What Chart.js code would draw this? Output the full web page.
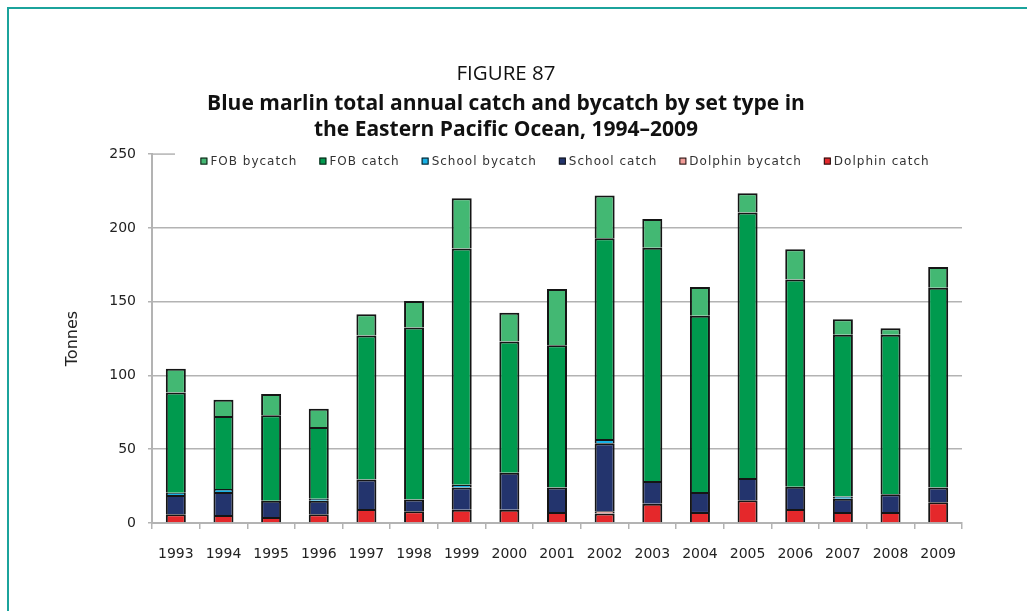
<!DOCTYPE html>
<html>
<head>
<meta charset="utf-8">
<script src="https://cdn.jsdelivr.net/npm/chart.js@4.4.1/dist/chart.umd.min.js"></script>
<style>
  html, body { margin: 0; padding: 0; background: #ffffff; }
  body { width: 1027px; height: 611px; position: relative; overflow: hidden; }
  #frame {
    position: absolute; left: 7px; top: 7px; width: 1040px; height: 640px;
    border-top: 2px solid #1ba39c; border-left: 2px solid #1ba39c;
  }
  #wrap { position: absolute; left: 0; top: 0; width: 1027px; height: 611px; }
</style>
</head>
<body>
<div id="frame"></div>
<div id="wrap"><canvas id="chart" width="1027" height="611"></canvas></div>
<script>
// Blue marlin catch and bycatch (tonnes) by set type, Eastern Pacific Ocean
const years = ['1993','1994','1995','1996','1997','1998','1999','2000','2001',
               '2002','2003','2004','2005','2006','2007','2008','2009'];

const dolphinCatch   = [6, 5.5, 4, 6, 9.5, 8, 9, 9, 7.5, 6.5, 13, 7.5, 15.5, 9.5, 7.5, 7.5, 14];
const dolphinBycatch = [0, 0, 0, 0, 0, 0, 0, 0, 0, 1.5, 0, 0, 0, 0, 0, 0, 0];
const schoolCatch    = [13, 15.5, 11, 9, 20, 8, 15, 25, 16.5, 46, 15.5, 13.5, 15, 15, 9, 12, 10];
const schoolBycatch  = [1.5, 2, 0, 1.5, 0, 0, 2, 0, 0, 3, 0, 0, 0, 0, 1.5, 0, 0];
const fobCatch       = [68, 49.5, 58, 48.5, 97.5, 116.5, 160, 89, 96.5, 136, 158, 119.5, 180, 140.5, 109.5, 108, 135.5];
const fobBycatch     = [16, 11, 14.5, 12.5, 14.5, 18, 34, 19.5, 38, 29, 19.5, 19.5, 13, 20.5, 10.5, 4.5, 14];

const yTicks = [0, 50, 100, 150, 200, 250];

const GRID = '#b3b3b3';
const FONT = "'DejaVu Sans', 'Liberation Sans', sans-serif";

function series(label, data, color) {
  return {
    label: label, data: data, backgroundColor: color,
    borderColor: '#151515', borderWidth: 2, borderSkipped: 'start'
  };
}

// short stub of the top gridline left of the legend
const topStub = {
  id: 'topStub',
  beforeDatasetsDraw(chart) {
    const y = chart.scales.y.getPixelForValue(yTicks[yTicks.length - 1]);
    const ctx = chart.ctx;
    ctx.save();
    ctx.strokeStyle = GRID;
    ctx.lineWidth = 1.5;
    ctx.beginPath();
    ctx.moveTo(chart.chartArea.left, y);
    ctx.lineTo(chart.chartArea.left + 23, y);
    ctx.stroke();
    ctx.restore();
  }
};

// one-row legend drawn inside the top of the plot, series listed top-down
const inPlotLegend = {
  id: 'inPlotLegend',
  afterDraw(chart) {
    const ctx = chart.ctx;
    const area = chart.chartArea;
    const items = chart.data.datasets.slice().reverse();
    const box = 7, textGap = 3, gap = 22;
    ctx.save();
    ctx.font = "12px " + FONT;
    if ('letterSpacing' in ctx) ctx.letterSpacing = '1px';
    const widths = items.map(d => ctx.measureText(d.label).width);
    const total = widths.reduce((a, w) => a + box + textGap + w, 0) + gap * (items.length - 1);
    let x = (area.left + area.right) / 2 - total / 2 + 8;
    const y = area.top + 7;
    ctx.textBaseline = 'middle';
    ctx.textAlign = 'left';
    items.forEach((d, i) => {
      ctx.fillStyle = d.backgroundColor;
      ctx.fillRect(x, y - box / 2, box, box);
      ctx.strokeStyle = '#151515';
      ctx.lineWidth = 1;
      ctx.strokeRect(x + 0.5, y - box / 2 + 0.5, box - 1, box - 1);
      ctx.fillStyle = '#333';
      ctx.fillText(d.label, x + box + textGap, y + 0.5);
      x += box + textGap + widths[i] + gap;
    });
    ctx.restore();
  }
};

new Chart(document.getElementById('chart'), {
  type: 'bar',
  data: {
    labels: years,
    datasets: [
      series('Dolphin catch', dolphinCatch, '#e5282b'),
      series('Dolphin bycatch', dolphinBycatch, '#f29c98'),
      series('School catch', schoolCatch, '#23346d'),
      series('School bycatch', schoolBycatch, '#17b1e6'),
      series('FOB catch', fobCatch, '#009a4e'),
      series('FOB bycatch', fobBycatch, '#43b873')
    ]
  },
  options: {
    responsive: false,
    animation: false,
    devicePixelRatio: 1,
    layout: { padding: { left: 50, right: 65, top: 62, bottom: 26 } },
    datasets: { bar: { barPercentage: 0.42, categoryPercentage: 1.0 } },
    plugins: {
      tooltip: { enabled: false },
      legend: { display: false },
      title: {
        display: true,
        text: 'FIGURE 87',
        color: '#111',
        font: { family: "'Open Sans', 'Noto Sans', sans-serif", size: 20.5, weight: 'normal', lineHeight: 1.2 },
        padding: { top: 0, bottom: 3 }
      },
      subtitle: {
        display: true,
        text: ['Blue marlin total annual catch and bycatch by set type in',
               'the Eastern Pacific Ocean, 1994\u20132009'],
        color: '#111',
        font: { family: "'Open Sans', 'Noto Sans', sans-serif", size: 21, weight: 'bold', lineHeight: 1.238 },
        padding: { top: 1, bottom: 11.5 }
      }
    },
    scales: {
      x: {
        stacked: true,
        offset: true,
        afterFit(scale) { scale.height = 62; },
        border: { display: true, color: GRID, width: 2 },
        grid: {
          display: true, offset: true, drawOnChartArea: false, drawTicks: true,
          tickLength: 6, color: GRID, lineWidth: 1.5
        },
        ticks: {
          color: '#222', padding: 17, maxRotation: 0, autoSkip: false,
          font: { family: FONT, size: 14 }
        }
      },
      y: {
        stacked: true,
        min: 0, max: 250,
        afterFit(scale) { scale.width = 102; },
        afterBuildTicks(scale) { scale.ticks = yTicks.map(v => ({ value: v })); },
        border: { display: true, color: GRID, width: 2 },
        grid: {
          drawTicks: true, tickLength: 4, lineWidth: 1.5,
          color: (ctx) => (ctx.tick && ctx.tick.value === 250) ? 'rgba(0,0,0,0)' : GRID,
          tickColor: GRID
        },
        ticks: {
          color: '#222', padding: 12,
          font: { family: FONT, size: 14 }
        },
        title: {
          display: true, text: 'Tonnes', color: '#222',
          font: { family: FONT, size: 16 },
          padding: { top: 13, bottom: 0 }
        }
      }
    }
  },
  plugins: [topStub, inPlotLegend]
});
</script>
</body>
</html>
